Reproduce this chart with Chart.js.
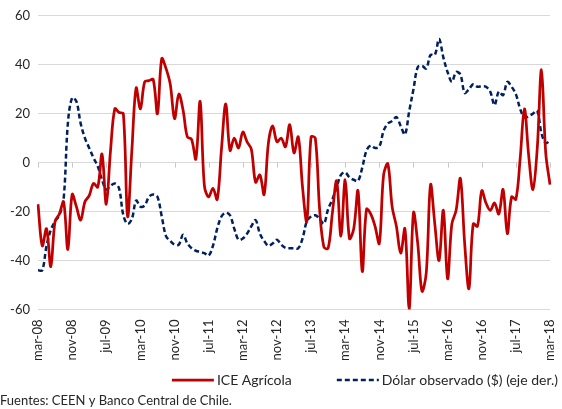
<!DOCTYPE html>
<html>
<head>
<meta charset="utf-8">
<script src="https://cdn.jsdelivr.net/npm/chart.js@4/dist/chart.umd.min.js"></script>
<style>
  html, body { margin: 0; padding: 0; background: #fff; }
  canvas { display: block; }
</style>
</head>
<body>
<canvas id="chart" width="562" height="409"></canvas>
<script>
// monthly, mar-08 .. mar-18
const monthNames = ['ene', 'feb', 'mar', 'abr', 'may', 'jun', 'jul', 'ago', 'sep', 'oct', 'nov', 'dic'];
const startMonth = 2;   // mar
const startYear = 8;    // 2008
const nMonths = 121;
const tickEvery = 8;

const iceAgricola = [
  -17, -34, -27, -42.5, -24, -21, -16, -35.5, -13, -18,
  -23.5, -16, -13.5, -8.5, -10, 3.5, -17, 5, 22, 20.5,
  20, -22, 5, 30.5, 22, 33, 33.5, 34, 20, 42.5,
  38.5, 32, 18, 28, 21.5, 10.5, 9.5, 1.5, 25, -9.5,
  -14, -10.5, -15, 5.5, 24, 5, 10, 6, 12.5, 8.5,
  5.5, -8, -5, -13, 8, 15, 8.5, 10, 6.5, 15.5,
  4, 10.5, -10, -24, 10.5, 10, -19, -34.5, -35, -20.5,
  -7.5, -30, -7, -31, -27, -11.5, -44.5, -19, -21, -26,
  -33, -5, -0.5, -18, -26, -37, -27, -60, -20.5, -33,
  -52.5, -45, -9, -25, -40, -19.5, -47.5, -25, -19.5, -6.5,
  -33, -51.5, -25, -26, -11.5, -16.5, -19.5, -16.5, -21, -11,
  -29, -14, -15, 1.5, 22, 3, -11, 5.5, 38, 4,
  -9
];

const dolarObservado = [
  -44, -44, -34, -27.5, -24, -21.5, -15, 16, 26.5, 25,
  16, 10, 6, 2, -1.5, -7, -11, -9.5, -8.5, -10.5,
  -21.5, -25, -23, -15.5, -18, -17.5, -14, -13, -14, -22,
  -30, -32, -33.5, -33.5, -29.5, -33, -35, -36, -36.5, -37,
  -38, -34, -27, -22, -20.5, -21.5, -27, -31.5, -31, -29,
  -26, -23.5, -29, -32, -34, -33, -31.5, -33.5, -34.8, -35,
  -35, -35, -31, -24, -22, -21.5, -23, -25, -19, -15,
  -10, -5, -4, -6, -7, -7.5, -2, 5, 7, 6,
  6.5, 13, 16, 17, 18.6, 15, 11.5, 21, 30, 39,
  39.5, 38.5, 44, 44, 50.5, 43, 37, 33, 37, 36,
  28.5, 30, 32, 31, 31.2, 31, 29, 23.5, 29, 27.6,
  33, 31, 28, 22, 18.4, 19, 20, 21.2, 12, 8,
  9
];

const labels = [];
for (let k = 0; k < nMonths; k++) {
  const m = (startMonth + k) % 12;
  const yr = startYear + Math.floor((startMonth + k) / 12);
  labels.push(monthNames[m] + '-' + String(yr).padStart(2, '0'));
}

const FONT = 'Lato, "Open Sans", sans-serif';
const TEXT = '#262626';
const GRID = '#d9d9d9';

// little tick marks hanging from the zero line, like the original
const zeroTicks = {
  id: 'zeroTicks',
  beforeDatasetsDraw(chart) {
    const x = chart.scales.x, y = chart.scales.y;
    const y0 = y.getPixelForValue(0);
    const ctx = chart.ctx;
    ctx.save();
    ctx.strokeStyle = '#c8c8c8';
    ctx.lineWidth = 1;
    ctx.beginPath();
    for (let i = 0; i < nMonths; i += tickEvery) {
      const px = Math.round(x.getPixelForValue(i)) + 0.5;
      ctx.moveTo(px, y0);
      ctx.lineTo(px, y0 + 5);
    }
    ctx.stroke();
    ctx.restore();
  }
};

// legend drawn by hand so the spacing between the two entries matches
const lineLegend = {
  id: 'lineLegend',
  afterDraw(chart) {
    const ctx = chart.ctx;
    const sample = 42, gap = 3, between = 45, y = 380;
    ctx.save();
    ctx.font = '14px ' + FONT;
    ctx.textBaseline = 'middle';
    const items = chart.data.datasets.map(ds => ({ ds, w: ctx.measureText(ds.label).width }));
    const total = items.reduce((s, it) => s + sample + gap + it.w, 0) + between * (items.length - 1);
    let x = chart.width - 4 - total;
    items.forEach(it => {
      ctx.strokeStyle = it.ds.borderColor;
      ctx.lineWidth = it.ds.borderWidth;
      ctx.setLineDash(it.ds.borderDash || []);
      ctx.beginPath();
      ctx.moveTo(x, y);
      ctx.lineTo(x + sample, y);
      ctx.stroke();
      ctx.setLineDash([]);
      ctx.fillStyle = TEXT;
      ctx.fillText(it.ds.label, x + sample + gap, y);
      x += sample + gap + it.w + between;
    });
    ctx.restore();
  }
};

new Chart(document.getElementById('chart'), {
  type: 'line',
  data: {
    labels: labels,
    datasets: [
      {
        label: 'ICE Agrícola',
        data: iceAgricola,
        borderColor: '#c00000',
        backgroundColor: '#c00000',
        borderWidth: 2.75,
        pointRadius: 0,
        tension: 0.35,
        fill: false,
        yAxisID: 'y'
      },
      {
        label: 'Dólar observado ($) (eje der.)',
        data: dolarObservado,
        borderColor: '#002060',
        backgroundColor: '#002060',
        borderWidth: 2.5,
        borderDash: [5, 3],
        pointRadius: 0,
        tension: 0.35,
        fill: false,
        yAxisID: 'y2'
      }
    ]
  },
  options: {
    responsive: false,
    animation: false,
    layout: { padding: { left: 0, right: 12, top: 14, bottom: 0 } },
    scales: {
      x: {
        offset: false,
        afterFit: (s) => { s.paddingRight = 0; s.paddingLeft = 0; },
        grid: { display: false, drawTicks: false },
        border: { display: false },
        ticks: {
          autoSkip: false,
          maxRotation: 90,
          minRotation: 90,
          padding: 10,
          color: TEXT,
          font: { family: FONT, size: 13 },
          callback: (v, i) => (i % tickEvery === 0 ? labels[i] : null)
        }
      },
      y: {
        min: -60,
        max: 60,
        afterFit: (s) => { s.width = 38; },
        grid: { color: GRID, lineWidth: 1, drawTicks: false },
        border: { display: false },
        ticks: {
          stepSize: 20,
          padding: 8,
          color: TEXT,
          font: { family: FONT, size: 13 }
        }
      },
      y2: {
        display: false,
        min: -60,
        max: 60
      }
    },
    plugins: {
      legend: { display: false },
      title: {
        display: true,
        position: 'bottom',
        align: 'start',
        text: 'Fuentes: CEEN y Banco Central de Chile.',
        color: TEXT,
        padding: { top: 23, bottom: 2 },
        font: { family: FONT, size: 13, weight: 'normal', lineHeight: 1 }
      },
      tooltip: { enabled: false }
    }
  },
  plugins: [zeroTicks, lineLegend]
});
</script>
</body>
</html>
